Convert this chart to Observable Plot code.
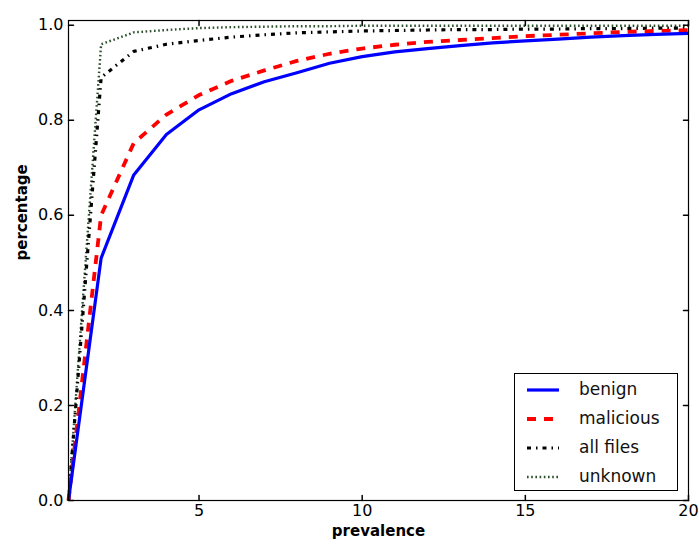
<!DOCTYPE html>
<html>
<head>
<meta charset="utf-8">
<script src="https://cdn.jsdelivr.net/npm/d3@7"></script>
<script src="https://cdn.jsdelivr.net/npm/@observablehq/plot@0.6"></script>
<style>
  html, body { margin: 0; padding: 0; background: #fff; }
  #wrap { position: relative; width: 699px; height: 545px; font-family: "DejaVu Sans", sans-serif; }
  #wrap svg { display: block; }
  #legend { position: absolute; left: 514px; top: 373px; width: 164px; height: 118px; border: 1.3px solid #000; background: #fff; box-sizing: border-box; }
  .entry { position: absolute; left: 0; height: 29px; width: 100%; }
  .entry svg { position: absolute; left: 12px; top: 0; }
  .entry span { position: absolute; left: 64px; top: 3px; font-size: 17px; color: #111; }
</style>
</head>
<body>
<div id="wrap"></div>
<script>
const prevalence = [1,2,3,4,5,6,7,8,9,10,11,12,13,14,15,16,17,18,19,20];
const benign    = [0,0.51,0.685,0.77,0.822,0.856,0.881,0.9,0.92,0.934,0.944,0.951,0.957,0.963,0.967,0.971,0.975,0.978,0.981,0.983];
const malicious = [0,0.60,0.752,0.812,0.853,0.883,0.905,0.925,0.94,0.951,0.959,0.965,0.969,0.973,0.977,0.98,0.983,0.986,0.988,0.99];
const allFiles  = [0,0.89,0.945,0.96,0.968,0.975,0.98,0.984,0.986,0.988,0.989,0.99,0.991,0.991,0.992,0.992,0.993,0.993,0.994,0.994];
const unknown   = [0,0.96,0.985,0.99,0.994,0.996,0.997,0.998,0.998,0.999,0.999,0.999,0.999,0.999,0.999,0.999,0.999,0.999,0.999,0.999];
const seriesNames = ["benign","malicious","all files","unknown"];
const xTicks = [5,10,15,20];
const yTicks = [0,0.2,0.4,0.6,0.8,1.0];
const xLabel = "prevalence";
const yLabel = "percentage";

const styles = {
  "benign":    {stroke: "#0000ff", strokeWidth: 3.2, dash: null},
  "malicious": {stroke: "#ff0000", strokeWidth: 3.8, dash: "9,8"},
  "all files": {stroke: "#000000", strokeWidth: 3.2, dash: "4,5,1.5,5"},
  "unknown":   {stroke: "#2a4f2a", strokeWidth: 2.4, dash: "1.6,2.6"}
};
const seriesValues = {"benign": benign, "malicious": malicious, "all files": allFiles, "unknown": unknown};

const tickShape = {draw(ctx, l) { ctx.moveTo(0, 0); ctx.lineTo(0, -l); }};

const lineMarks = seriesNames.slice().reverse().map(name => {
  const s = styles[name];
  const data = prevalence.map((x, i) => ({x, y: seriesValues[name][i]}));
  return Plot.line(data, {x: "x", y: "y", stroke: s.stroke, strokeWidth: s.strokeWidth,
    strokeDasharray: s.dash, strokeLinejoin: "round", strokeLinecap: "butt"});
});

const chart = Plot.plot({
  width: 699, height: 545,
  marginLeft: 68, marginRight: 11, marginTop: 20, marginBottom: 45,
  style: {fontFamily: "DejaVu Sans, sans-serif", fontSize: "16px", color: "#000", background: "#fff"},
  x: {domain: [1, 20]},
  y: {domain: [0, 1.01]},
  marks: [
    ...lineMarks,
    Plot.frame({stroke: "#000", strokeWidth: 1.2}),
    Plot.vector(xTicks, {x: d => d, y: 0, length: 5, rotate: 0, anchor: "start", shape: tickShape, stroke: "#000"}),
    Plot.vector(xTicks, {x: d => d, y: 1.01, length: 5, rotate: 180, anchor: "start", shape: tickShape, stroke: "#000"}),
    Plot.vector(yTicks, {x: 1, y: d => d, length: 5, rotate: 90, anchor: "start", shape: tickShape, stroke: "#000"}),
    Plot.vector(yTicks, {x: 20, y: d => d, length: 5, rotate: -90, anchor: "start", shape: tickShape, stroke: "#000"}),
    Plot.axisX({ticks: xTicks, tickSize: 0, tickPadding: 4, tickFormat: d => String(d), label: null}),
    Plot.axisY({ticks: yTicks, tickSize: 0, tickPadding: 5, tickFormat: d3.format(".1f"), label: null}),
    Plot.text([xLabel], {frameAnchor: "bottom", text: d => d, dy: 35, fontWeight: "bold", fontSize: 15}),
    Plot.text([yLabel], {frameAnchor: "left", text: d => d, dx: -46, rotate: -90, fontWeight: "bold", fontSize: 15})
  ]
});
const wrap = document.getElementById("wrap");
wrap.appendChild(chart);

// legend
const legend = document.createElement("div");
legend.id = "legend";
seriesNames.forEach((name, i) => {
  const s = styles[name];
  const e = document.createElement("div");
  e.className = "entry";
  e.style.top = (2 + i * 29) + "px";
  const ns = "http://www.w3.org/2000/svg";
  const svg = document.createElementNS(ns, "svg");
  svg.setAttribute("width", 34); svg.setAttribute("height", 29);
  const ln = document.createElementNS(ns, "line");
  ln.setAttribute("x1", 0); ln.setAttribute("x2", 32);
  ln.setAttribute("y1", 14); ln.setAttribute("y2", 14);
  ln.setAttribute("stroke", s.stroke);
  ln.setAttribute("stroke-width", s.strokeWidth);
  if (s.dash) ln.setAttribute("stroke-dasharray", s.dash);
  svg.appendChild(ln);
  e.appendChild(svg);
  const sp = document.createElement("span");
  sp.textContent = name;
  e.appendChild(sp);
  legend.appendChild(e);
});
wrap.appendChild(legend);
</script>
</body>
</html>
